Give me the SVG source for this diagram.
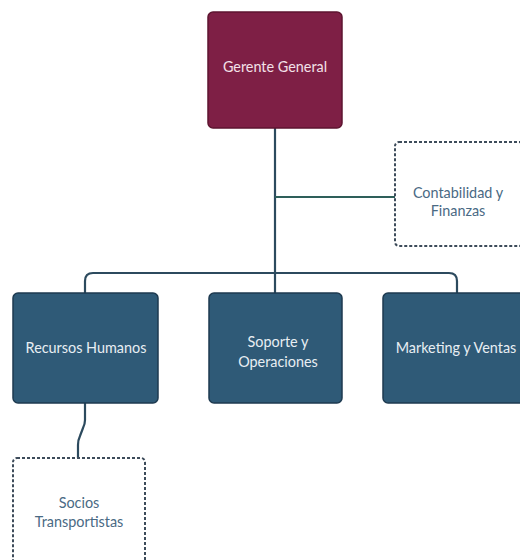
<svg xmlns="http://www.w3.org/2000/svg" width="520" height="560" viewBox="0 0 520 560">
  <defs>
    <style>
      .lbl { font-family: Lato, "Open Sans", "Liberation Sans", sans-serif; font-size: 14.4px; text-anchor: middle; }
      .solid-boss { fill: #7e1f45; stroke: #5e1530; stroke-width: 1.5; }
      .solid-dept { fill: #2f5a77; stroke: #1e3a50; stroke-width: 1.5; }
      .dashed { fill: #ffffff; stroke: #3d4b5a; stroke-width: 2; stroke-dasharray: 3 2; }
      .on-dark { fill: #e8eef3; }
      .on-boss { fill: #f3e1e8; }
      .on-light { fill: #4a6a84; }
      .link { fill: none; stroke: #2c4a5e; stroke-width: 2.2; }
      .link-aux { fill: none; stroke: #2e5f5a; stroke-width: 2.2; }
    </style>
  </defs>
  <rect width="520" height="560" fill="#ffffff"/>

  <!-- connectors -->
  <g id="connectors">
    <path class="link" d="M275 128 V295"/>
    <path class="link-aux" d="M275 197 H395"/>
    <path class="link" d="M85 295 V281 Q85 273 93 273 H449 Q457 273 457 281 V295"/>
    <path class="link" d="M85 403 V420 Q85 424 83 428 L80 436 Q78 440 78 445 V458"/>
  </g>

  <g id="gerente-general">
    <rect class="solid-boss" x="208" y="12" width="134" height="116" rx="5"/>
    <text class="lbl on-boss" x="275" y="72">Gerente General</text>
  </g>

  <g id="contabilidad-finanzas">
    <rect class="dashed" x="395" y="142" width="128" height="104" rx="4"/>
    <text class="lbl on-light" x="458" y="198">Contabilidad y</text>
    <text class="lbl on-light" x="458" y="216">Finanzas</text>
  </g>

  <g id="recursos-humanos">
    <rect class="solid-dept" x="13" y="293" width="145" height="110" rx="5"/>
    <text class="lbl on-dark" x="86" y="353">Recursos Humanos</text>
  </g>

  <g id="soporte-operaciones">
    <rect class="solid-dept" x="209" y="293" width="133" height="110" rx="5"/>
    <text class="lbl on-dark" x="278" y="347">Soporte y</text>
    <text class="lbl on-dark" x="278" y="367">Operaciones</text>
  </g>

  <g id="marketing-ventas">
    <rect class="solid-dept" x="383" y="293" width="146" height="110" rx="5"/>
    <text class="lbl on-dark" x="456" y="353">Marketing y Ventas</text>
  </g>

  <g id="socios-transportistas">
    <rect class="dashed" x="13" y="458" width="132" height="110" rx="4"/>
    <text class="lbl on-light" x="79" y="508">Socios</text>
    <text class="lbl on-light" x="79" y="527">Transportistas</text>
  </g>
</svg>
